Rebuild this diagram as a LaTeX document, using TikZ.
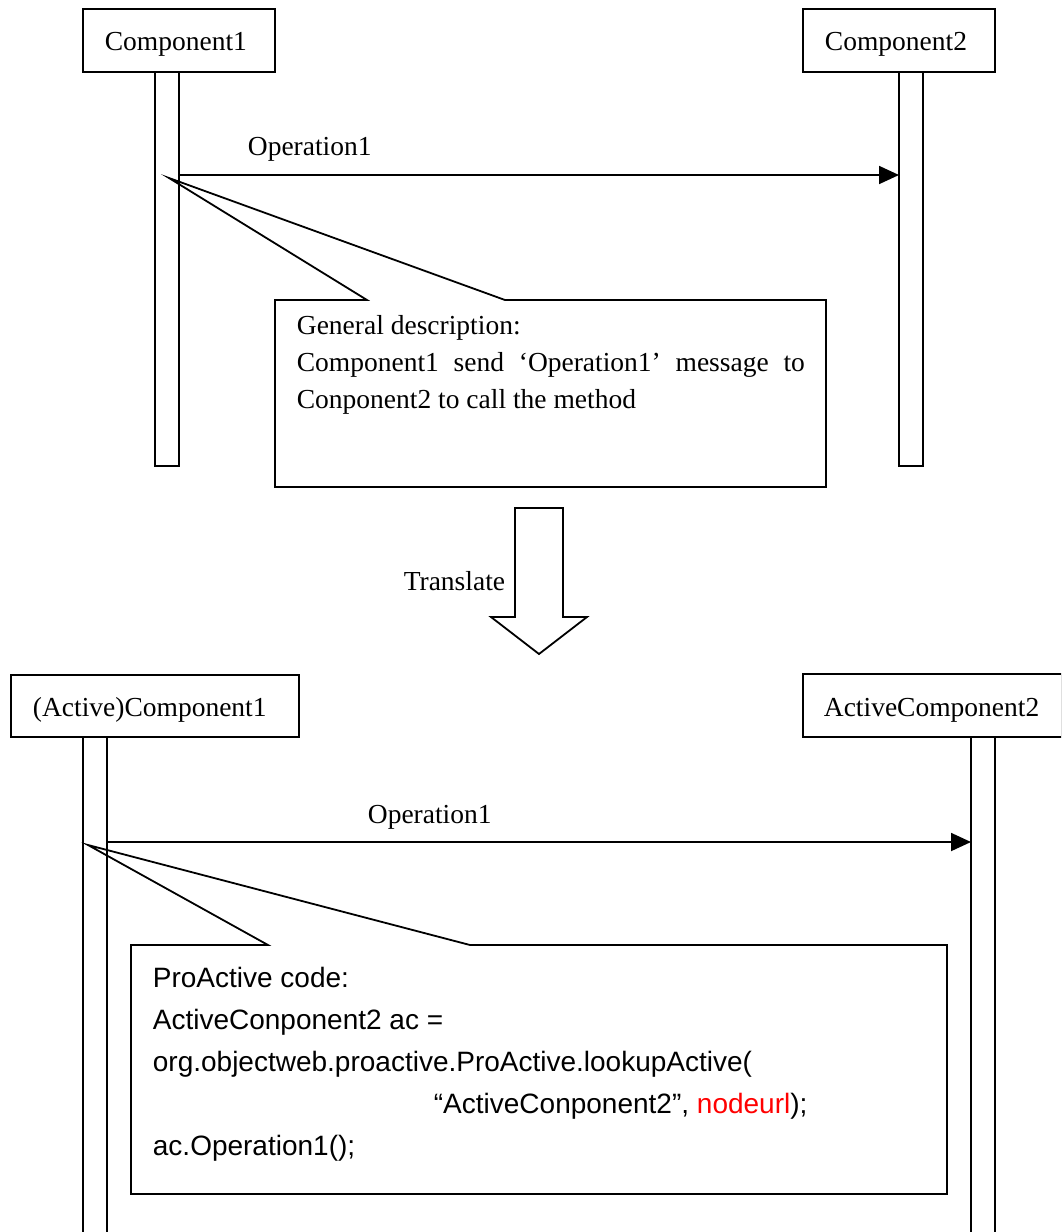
\documentclass[tikz,border=0pt]{standalone}
\usepackage{fontspec}
\setmainfont{Liberation Serif}
\newfontfamily\codefont{Liberation Sans}
\usetikzlibrary{arrows.meta,calc}
\begin{document}
\begin{tikzpicture}[x=1pt,y=-1pt,
  line width=1.8pt, line join=miter,
  every node/.style={font=\fontsize{27.5}{33}\selectfont},
  objbox/.style={draw, rectangle, inner sep=0pt, outer sep=0pt},
  lifeline/.style={draw, rectangle, inner sep=0pt, outer sep=0pt, minimum width=24pt},
  txt/.style={anchor=base west, inner sep=0pt},
  codetxt/.style={anchor=base west, inner sep=0pt, font=\codefont\fontsize{28}{33}\selectfont},
  msg/.style={-{Triangle[length=20pt,width=18pt]}}]
\useasboundingbox (0,0) rectangle (1061,1232);
\clip (0,0) rectangle (1061,1232);

% ---------- upper sequence ----------
\node[objbox, minimum width=192pt, minimum height=63pt] (c1) at (179,40.5) {};
\node[txt] (c1t) at (104,50) {Component1};
\node[lifeline, minimum height=394pt] (l1) at (167,269) {};

\node[objbox, minimum width=192pt, minimum height=63pt] (c2) at (899,40.5) {};
\node[txt] (c2t) at (824,50) {Component2};
\node[lifeline, minimum height=394pt] (l2) at (911,269) {};

\coordinate (m1) at (0,175);
\draw[msg] (l1.east |- m1) -- (l2.west |- m1);
\node[txt] (op1) at (247,155) {Operation1};

% note attached to the message
\coordinate (tip1) at (169,178);
\draw (367,300) -- (tip1) -- (505,300) -- (826,300) -- (826,487) -- (275,487) -- (275,300) -- cycle;
\node[txt] (d1) at (296,334) {General description:};
\node[txt] (d2) at (296,371) {\hbox to 508pt{Component1\hfill send\hfill ‘Operation1’\hfill message\hfill to}};
\node[txt] (d3) at (296,408) {Conponent2 to call the method};

% ---------- translation arrow ----------
\draw (515,508) -- (563,508) -- (563,617) -- (587,617) -- (539,654) -- (491,617) -- (515,617) -- cycle;
\node[anchor=base east, inner sep=0pt] (tr) at (506,590) {Translate};

% ---------- lower sequence ----------
\node[objbox, minimum width=288pt, minimum height=62pt] (a1) at (155,706) {};
\node[txt] (a1t) at (32,716) {(Active)Component1};
\node[lifeline, minimum height=520pt] (al1) at (95,997) {};

\node[objbox, minimum width=259pt, minimum height=63pt] (a2) at (932.5,705.5) {};
\node[txt] (a2t) at (823,716) {ActiveComponent2};
\node[lifeline, minimum height=520pt] (al2) at (983,997) {};

\coordinate (m2) at (0,842);
\draw[msg] (al1.east |- m2) -- (al2.west |- m2);
\node[txt] (op2) at (367,823) {Operation1};

% note with the generated code
\coordinate (tip2) at (88,845);
\draw (268,945) -- (tip2) -- (470,945) -- (947,945) -- (947,1194) -- (131,1194) -- (131,945) -- cycle;
\node[codetxt] (k1) at (152,987) {ProActive code:};
\node[codetxt] (k2) at (152,1029) {ActiveConponent2 ac =};
\node[codetxt] (k3) at (152,1071) {org.objectweb.proactive.ProActive.lookupActive(};
\node[codetxt] (k4) at (433,1113) {“ActiveConponent2”, \textcolor{red}{nodeurl});};
\node[codetxt] (k5) at (152,1155) {ac.Operation1();};
\end{tikzpicture}
\end{document}
